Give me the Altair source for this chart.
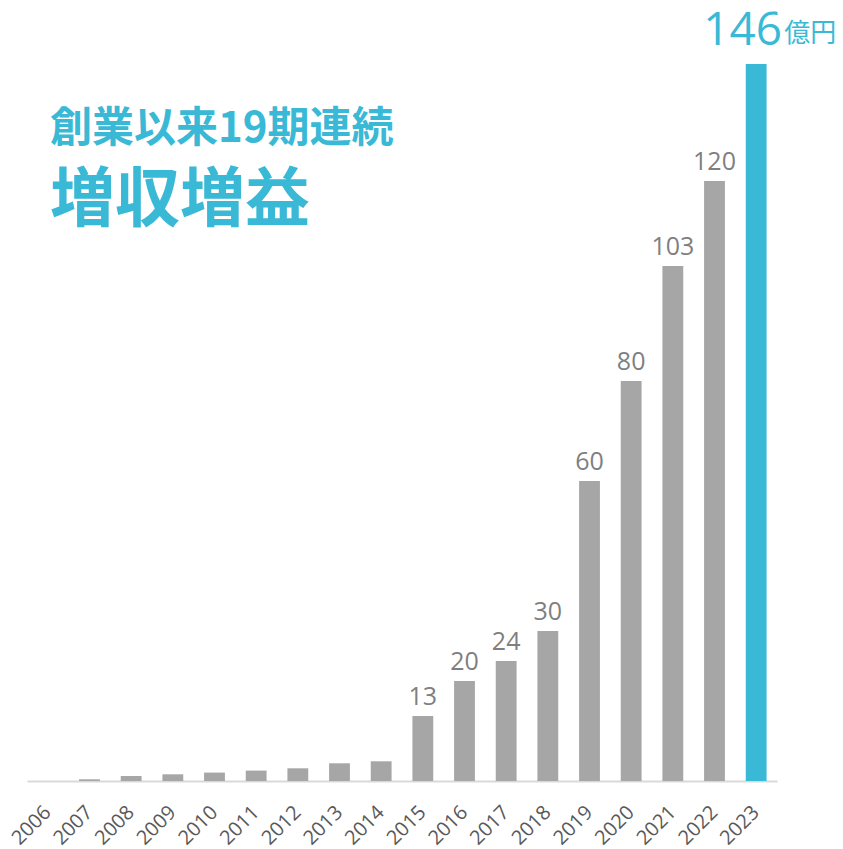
import altair as alt
import pandas as pd

years = [str(y) for y in range(2006, 2024)]
values = [0, 0.34, 1.0, 1.34, 1.68, 2.08, 2.54, 3.54, 3.94, 13, 20, 24, 30, 60, 80, 103, 120, 146]
labels = ["", "", "", "", "", "", "", "", "", "13", "20", "24", "30", "60", "80", "103", "120", "146"]
unit = "億円"
title1 = "創業以来19期連続"
title2 = "増収増益"

BLUE = "#3ab9d6"
GRAY = "#a6a6a6"

df = pd.DataFrame({"year": years, "value": values, "label": labels})

xscale = alt.Scale(paddingInner=0.5, paddingOuter=0.25)
# the top bar is cut at the top of the plot, as in the reference
yscale = alt.Scale(domain=[0, 143.4], nice=False, zero=True)

base = alt.Chart(df).encode(
    x=alt.X("year:N", scale=xscale, sort=years,
            axis=alt.Axis(title=None, labelAngle=-45, labelAlign="right",
                          labelBaseline="middle", labelPadding=28,
                          labelFontSize=20, labelColor="#595959",
                          labelFont="Open Sans", ticks=False, labelLimit=200,
                          labelOverlap=False,
                          domainColor="#d9d9d9", domainWidth=2, grid=False)),
    y=alt.Y("value:Q", scale=yscale, axis=None),
)

bars = base.mark_bar(clip=True).encode(
    color=alt.condition(alt.datum.year == "2023", alt.value(BLUE), alt.value(GRAY))
)

vlabels = base.mark_text(dy=-11, baseline="alphabetic", fontSize=25,
                         font="Open Sans", color="#7f7f7f").encode(
    text="label:N"
).transform_filter("datum.label != '' && datum.year != '2023'")

big = base.mark_text(dy=-6, dx=26, align="right", baseline="alphabetic",
                     fontSize=46, font="Open Sans", color=BLUE).encode(
    text="label:N"
).transform_filter("datum.year == '2023'")

unit_txt = base.mark_text(dy=-9, dx=28, align="left", baseline="alphabetic",
                          fontSize=26, font="Noto Sans CJK JP", color=BLUE).encode(
    text=alt.value(unit)
).transform_filter("datum.year == '2023'")

t1 = alt.Chart(pd.DataFrame({"t": [title1]})).mark_text(
    align="left", baseline="alphabetic", fontSize=42, fontWeight="bold",
    font="Noto Sans CJK JP", color=BLUE
).encode(x=alt.value(23), y=alt.value(78), text="t:N")

t2 = alt.Chart(pd.DataFrame({"t": [title2]})).mark_text(
    align="left", baseline="alphabetic", fontSize=65, fontWeight="bold",
    font="Noto Sans CJK JP", color=BLUE
).encode(x=alt.value(23), y=alt.value(157), text="t:N")

chart = alt.layer(bars, vlabels, big, unit_txt, t1, t2).properties(
    width=750, height=717,
    autosize=alt.AutoSizeParams(type="none"),
    padding={"left": 19, "top": 56, "right": 58, "bottom": 69},
).configure(background="white", view=alt.ViewConfig(strokeWidth=0, stroke="transparent"))

chart.save("out.html", embed_options={"renderer": "svg", "actions": False})
